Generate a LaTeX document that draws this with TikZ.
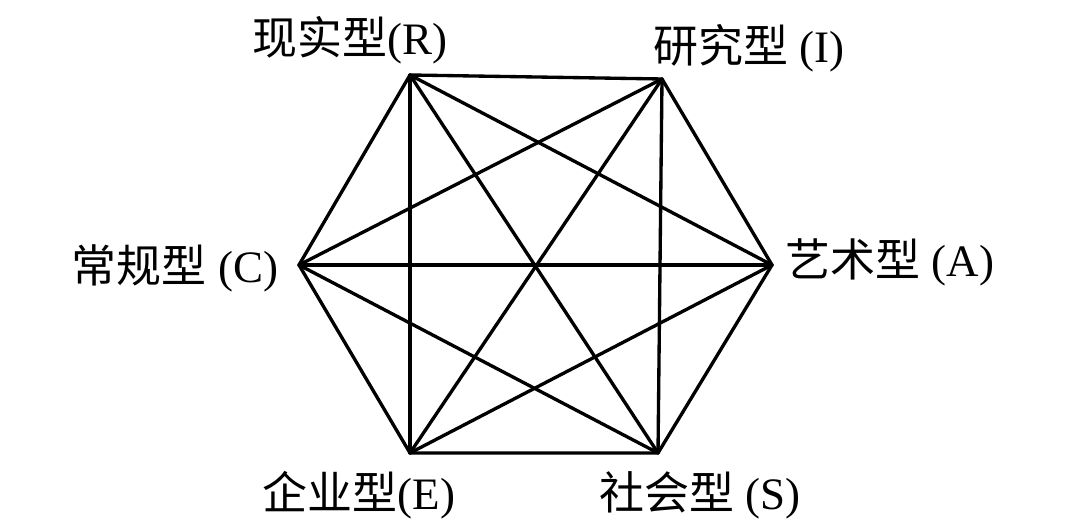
\documentclass[tikz,border=0pt]{standalone}
\usepackage{fontspec}
\setmainfont{Liberation Serif}
\newfontfamily\cjk{Noto Sans CJK SC}
\begin{document}
\begin{tikzpicture}[line cap=round,line join=round,
  edge/.style={line width=0.95pt},
  lbl/.style={inner sep=0pt,font=\fontsize{12.8}{14}\selectfont}]
  \useasboundingbox (0,0) rectangle (10.8,5.23);
  \coordinate (R) at (4.10,4.48);
  \coordinate (I) at (6.62,4.44);
  \coordinate (A) at (7.72,2.58);
  \coordinate (S) at (6.58,0.70);
  \coordinate (E) at (4.10,0.70);
  \coordinate (C) at (2.99,2.58);
  % hexagon
  \draw[edge] (R) -- (I) -- (A) -- (S) -- (E) -- (C) -- cycle;
  % diagonals
  \draw[edge] (R) -- (A);
  \draw[edge] (R) -- (S);
  \draw[edge] (R) -- (E);
  \draw[edge] (I) -- (S);
  \draw[edge] (I) -- (E);
  \draw[edge] (I) -- (C);
  \draw[edge] (A) -- (E);
  \draw[edge] (A) -- (C);
  \draw[edge] (S) -- (C);
  % labels
  \node[lbl] (lR) at (3.50,4.83) {{\cjk 现实型}(R)};
  \node[lbl] (lI) at (7.49,4.75) {{\cjk 研究型} (I)};
  \node[lbl] (lC) at (1.75,2.55) {{\cjk 常规型} (C)};
  \node[lbl] (lA) at (8.90,2.61) {{\cjk 艺术型} (A)};
  \node[lbl] (lE) at (3.59,0.28) {{\cjk 企业型}(E)};
  \node[lbl] (lS) at (7.00,0.28) {{\cjk 社会型} (S)};
\end{tikzpicture}
\end{document}
